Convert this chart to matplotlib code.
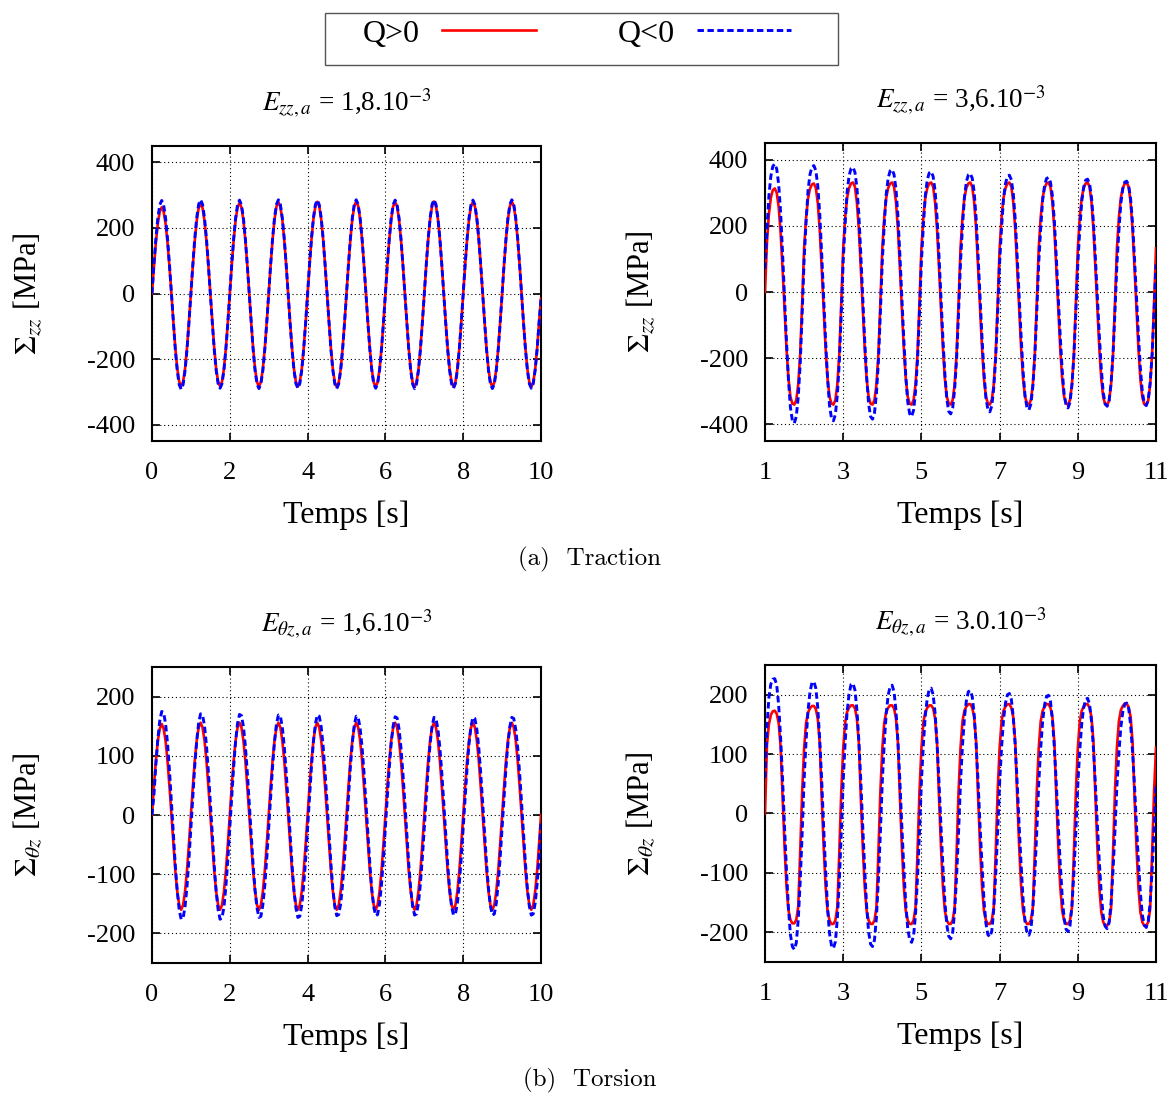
import numpy as np
import matplotlib.pyplot as plt
from matplotlib.patches import Rectangle
from matplotlib.lines import Line2D

plt.rcParams['font.family'] = ['Liberation Serif', 'DejaVu Serif']
plt.rcParams['mathtext.fontset'] = 'stix'
plt.rcParams['axes.unicode_minus'] = False

# sampling step of the curves (s)
dt = 0.05
t_a = np.arange(201) * dt          # left column: 0 .. 10 s
t_b = 1.0 + np.arange(201) * dt    # right column: 1 .. 11 s

# ---- (a) Traction, E_zz,a = 1,8e-3 (MPa)
trac1_qpos = [
    0, 81, 155, 213, 250, 263, 250, 213, 155, 81, 0, -87, -166, -229, -269, -283, -269, -229, -166, -87,
    0, 85, 161, 222, 261, 274, 261, 222, 161, 85, 0, -87, -166, -229, -269, -283, -269, -229, -166, -87,
    0, 86, 163, 224, 263, 277, 263, 224, 163, 86, 0, -88, -167, -230, -270, -284, -270, -230, -167, -88,
    0, 86, 164, 226, 265, 279, 265, 226, 164, 86, 0, -88, -167, -230, -270, -284, -270, -230, -167, -88,
    0, 87, 165, 227, 266, 280, 266, 227, 165, 87, 0, -88, -168, -231, -271, -285, -271, -231, -168, -88,
    0, 87, 165, 227, 267, 281, 267, 227, 165, 87, 0, -88, -168, -231, -271, -285, -271, -231, -168, -88,
    0, 87, 165, 227, 266, 280, 266, 227, 165, 87, 0, -88, -168, -231, -271, -285, -271, -231, -168, -88,
    0, 87, 165, 227, 267, 281, 267, 227, 165, 87, 0, -88, -167, -230, -270, -284, -270, -230, -167, -88,
    0, 87, 165, 227, 266, 280, 266, 227, 165, 87, 0, -88, -168, -231, -271, -285, -271, -231, -168, -88,
    0, 87, 165, 227, 267, 281, 267, 227, 165, 87, 0, -88, -168, -231, -271, -285, -271, -231, -168, -88,
    -15]
trac1_qneg = [
    0, 88, 167, 230, 270, 284, 270, 230, 167, 88, 0, -90, -172, -236, -278, -292, -278, -236, -172, -90,
    0, 88, 168, 231, 272, 286, 272, 231, 168, 88, 0, -89, -170, -234, -275, -289, -275, -234, -170, -89,
    0, 88, 168, 231, 271, 285, 271, 231, 168, 88, 0, -90, -171, -235, -276, -290, -276, -235, -171, -90,
    0, 88, 168, 231, 272, 286, 272, 231, 168, 88, 0, -89, -170, -234, -275, -289, -275, -234, -170, -89,
    0, 88, 168, 231, 271, 285, 271, 231, 168, 88, 0, -90, -171, -235, -276, -290, -276, -235, -171, -90,
    0, 88, 168, 231, 272, 286, 272, 231, 168, 88, 0, -89, -170, -234, -275, -289, -275, -234, -170, -89,
    0, 88, 168, 231, 271, 285, 271, 231, 168, 88, 0, -90, -171, -235, -276, -290, -276, -235, -171, -90,
    0, 88, 168, 231, 272, 286, 272, 231, 168, 88, 0, -89, -170, -234, -275, -289, -275, -234, -170, -89,
    0, 88, 168, 231, 271, 285, 271, 231, 168, 88, 0, -90, -171, -235, -276, -290, -276, -235, -171, -90,
    0, 88, 168, 231, 272, 286, 272, 231, 168, 88, 0, -89, -170, -234, -275, -289, -275, -234, -170, -89,
    -15]

# ---- (a) Traction, E_zz,a = 3,6e-3
trac2_qpos = [
    0, 150, 235, 285, 308, 313, 300, 257, 178, 69, -51, -170, -262, -316, -337, -340, -326, -279, -187, -34,
    131, 223, 282, 312, 325, 328, 315, 269, 187, 72, -51, -170, -262, -316, -337, -340, -326, -279, -187, -34,
    132, 225, 285, 314, 328, 331, 318, 271, 189, 73, -51, -170, -262, -316, -337, -340, -326, -279, -187, -34,
    132, 225, 285, 314, 328, 331, 318, 271, 189, 73, -51, -170, -262, -316, -337, -340, -326, -279, -187, -34,
    132, 225, 285, 314, 328, 331, 318, 271, 189, 73, -51, -170, -262, -316, -337, -340, -326, -279, -187, -34,
    132, 225, 285, 314, 328, 331, 318, 271, 189, 73, -51, -170, -262, -316, -337, -340, -326, -279, -187, -34,
    132, 225, 285, 314, 328, 331, 318, 271, 189, 73, -51, -170, -262, -316, -337, -340, -326, -279, -187, -34,
    132, 225, 285, 314, 328, 331, 318, 271, 189, 73, -51, -170, -262, -316, -337, -340, -326, -279, -187, -34,
    132, 225, 285, 314, 328, 331, 318, 271, 189, 73, -51, -171, -263, -318, -339, -342, -328, -280, -188, -34,
    132, 225, 285, 314, 328, 331, 318, 271, 189, 73, -51, -171, -263, -318, -339, -342, -328, -280, -188, -34,
    132]
trac2_qneg = [
    70, 190, 290, 350, 380, 387, 372, 325, 240, 116, -20, -150, -265, -348, -388, -396, -376, -317, -218, -67,
    96, 210, 306, 355, 378, 382, 367, 321, 237, 115, -19, -148, -261, -342, -381, -389, -370, -311, -214, -66,
    94, 207, 302, 351, 373, 377, 362, 317, 234, 113, -19, -146, -257, -338, -376, -384, -365, -307, -211, -65,
    93, 204, 296, 344, 366, 370, 355, 311, 229, 111, -19, -143, -252, -331, -368, -376, -357, -301, -207, -64,
    91, 200, 291, 339, 360, 364, 349, 306, 226, 109, -18, -140, -247, -324, -361, -368, -350, -294, -202, -63,
    90, 197, 286, 333, 354, 358, 344, 301, 222, 107, -18, -138, -243, -319, -355, -362, -344, -290, -199, -62,
    88, 194, 282, 328, 349, 353, 339, 297, 219, 106, -18, -135, -239, -313, -349, -356, -338, -285, -196, -61,
    87, 190, 277, 322, 343, 346, 332, 291, 215, 104, -18, -133, -235, -308, -343, -350, -333, -280, -193, -60,
    85, 188, 273, 317, 338, 341, 327, 286, 211, 102, -17, -131, -231, -304, -338, -345, -328, -276, -190, -59,
    84, 184, 268, 312, 332, 335, 322, 281, 208, 101, -17, -130, -230, -302, -336, -343, -326, -274, -189, -58,
    84]

# ---- (b) Torsion, E_thetaz,a = 1,6e-3
tors1_qpos = [
    0, 48, 91, 125, 146, 154, 146, 125, 91, 48, 0, -49, -94, -129, -152, -160, -152, -129, -94, -49,
    0, 48, 92, 126, 148, 156, 148, 126, 92, 48, 0, -49, -94, -129, -152, -160, -152, -129, -94, -49,
    0, 48, 92, 126, 148, 156, 148, 126, 92, 48, 0, -49, -94, -129, -152, -160, -152, -129, -94, -49,
    0, 48, 92, 126, 148, 156, 148, 126, 92, 48, 0, -49, -94, -129, -152, -160, -152, -129, -94, -49,
    0, 48, 92, 126, 148, 156, 148, 126, 92, 48, 0, -49, -94, -129, -152, -160, -152, -129, -94, -49,
    0, 48, 92, 126, 148, 156, 148, 126, 92, 48, 0, -49, -94, -129, -152, -160, -152, -129, -94, -49,
    0, 48, 92, 126, 148, 156, 148, 126, 92, 48, 0, -49, -94, -129, -152, -160, -152, -129, -94, -49,
    0, 48, 92, 126, 148, 156, 148, 126, 92, 48, 0, -49, -94, -129, -152, -160, -152, -129, -94, -49,
    0, 48, 92, 126, 148, 156, 148, 126, 92, 48, 0, -49, -94, -129, -152, -160, -152, -129, -94, -49,
    0, 48, 92, 126, 148, 156, 148, 126, 92, 48, 0, -49, -94, -129, -152, -160, -152, -129, -94, -49,
    0]
tors1_qneg = [
    0, 33, 85, 128, 159, 175, 173, 154, 121, 75, 22, -33, -85, -129, -160, -176, -174, -155, -121, -75,
    -22, 32, 83, 125, 156, 171, 169, 151, 118, 73, 22, -33, -85, -129, -160, -176, -174, -155, -121, -75,
    -22, 32, 82, 125, 155, 170, 168, 150, 117, 73, 21, -33, -84, -127, -157, -173, -171, -152, -119, -74,
    -22, 32, 82, 124, 154, 169, 167, 149, 116, 72, 21, -33, -84, -127, -157, -173, -171, -152, -119, -74,
    -22, 32, 82, 124, 154, 169, 167, 149, 116, 72, 21, -32, -82, -125, -155, -170, -168, -150, -117, -73,
    -21, 31, 81, 122, 152, 167, 165, 147, 115, 72, 21, -32, -82, -125, -155, -170, -168, -150, -117, -73,
    -21, 31, 80, 122, 151, 166, 164, 146, 114, 71, 21, -32, -82, -124, -154, -169, -167, -149, -116, -72,
    -21, 31, 80, 121, 150, 165, 163, 145, 114, 71, 21, -32, -82, -124, -154, -169, -167, -149, -116, -72,
    -21, 31, 80, 121, 150, 165, 163, 145, 114, 71, 21, -32, -82, -124, -154, -169, -167, -149, -116, -72,
    -21, 31, 80, 121, 150, 165, 163, 145, 114, 71, 21, -32, -82, -124, -154, -169, -167, -149, -116, -72,
    -10]

# ---- (b) Torsion, E_thetaz,a = 3.0e-3
tors2_qpos = [
    0, 115, 150, 166, 172, 173, 168, 152, 112, 26, -56, -122, -163, -179, -185, -185, -179, -157, -65, 36,
    109, 152, 170, 177, 181, 181, 176, 159, 118, 27, -56, -123, -164, -180, -186, -186, -180, -158, -65, 36,
    109, 153, 171, 178, 182, 182, 177, 160, 118, 27, -56, -123, -164, -180, -186, -186, -180, -158, -65, 36,
    109, 153, 171, 178, 182, 182, 177, 160, 118, 27, -56, -123, -164, -180, -186, -186, -180, -158, -65, 36,
    109, 153, 171, 178, 182, 182, 177, 160, 118, 27, -56, -123, -164, -180, -186, -186, -180, -158, -65, 37,
    110, 155, 173, 180, 184, 184, 178, 162, 120, 28, -56, -123, -164, -180, -186, -186, -180, -158, -65, 37,
    110, 155, 173, 180, 184, 184, 178, 162, 120, 28, -56, -123, -164, -180, -186, -186, -180, -158, -65, 37,
    110, 155, 173, 180, 184, 184, 178, 162, 120, 28, -56, -123, -164, -180, -186, -186, -180, -158, -65, 37,
    110, 155, 173, 180, 184, 184, 178, 162, 120, 28, -57, -125, -166, -183, -189, -189, -183, -161, -66, 37,
    111, 155, 174, 181, 185, 185, 179, 163, 120, 28, -57, -125, -166, -183, -189, -189, -183, -161, -66, 37,
    111]
tors2_qneg = [
    60, 145, 195, 218, 226, 227, 216, 182, 127, 57, -23, -96, -160, -204, -224, -229, -218, -179, -115, -34,
    56, 122, 173, 204, 220, 222, 211, 178, 124, 56, -23, -95, -159, -202, -222, -227, -216, -177, -114, -34,
    55, 120, 171, 201, 217, 219, 208, 175, 123, 55, -22, -94, -157, -199, -220, -224, -213, -175, -112, -34,
    54, 119, 168, 199, 214, 216, 205, 173, 121, 54, -22, -91, -152, -193, -213, -217, -206, -169, -109, -33,
    53, 116, 165, 194, 209, 211, 200, 169, 118, 53, -21, -89, -148, -188, -207, -211, -200, -165, -106, -32,
    52, 114, 161, 190, 205, 207, 197, 166, 116, 52, -21, -87, -146, -185, -204, -208, -198, -162, -104, -31,
    51, 111, 158, 186, 200, 202, 192, 162, 113, 51, -21, -86, -144, -182, -201, -205, -195, -160, -103, -31,
    50, 109, 155, 183, 197, 199, 189, 159, 111, 50, -20, -84, -139, -177, -195, -199, -189, -155, -100, -30,
    49, 107, 151, 178, 192, 194, 184, 155, 109, 49, -19, -81, -136, -173, -190, -194, -184, -151, -97, -29,
    47, 102, 145, 171, 184, 186, 177, 149, 104, 47, -19, -81, -134, -171, -188, -192, -182, -150, -96, -29,
    47]

red = '#ff0000'
blue = '#0000ff'
dash = (0, (2.2, 1.2))

fig = plt.figure(figsize=(11.69, 10.93), dpi=100)


def panel(rect, t, qpos, qneg, lim, yticks, xticks, ylabel, title):
    ax = fig.add_axes(rect)
    ax.plot(t, qpos, color=red, lw=1.9, zorder=3)
    ax.plot(t, qneg, color=blue, lw=2.1, ls=dash, zorder=4)
    ax.set_xlim(t[0], t[-1])
    ax.set_ylim(-lim, lim)
    ax.set_xticks(xticks)
    ax.set_yticks(yticks)
    ax.set_yticklabels([str(v) for v in yticks])
    ax.grid(True, color='black', ls=(0, (1, 2.5)), lw=0.8)
    ax.tick_params(direction='in', length=6, width=1.2, top=True, right=True, labelsize=19)
    ax.tick_params(axis='x', pad=15)
    ax.tick_params(axis='y', pad=12)
    for s in ax.spines.values():
        s.set_linewidth(1.5)
    ax.set_xlabel('Temps [s]', fontsize=23)
    ax.set_ylabel(ylabel, fontsize=22)
    ax.yaxis.set_label_coords(-0.277, 0.5)
    ax.xaxis.set_label_coords(0.5, -0.2)
    ax.set_title(title, fontsize=19.5, pad=25)
    return ax


panel([0.1300, 0.5965, 0.3328, 0.2699], t_a, trac1_qpos, trac1_qneg, 450,
      [-400, -200, 0, 200, 400], [0, 2, 4, 6, 8, 10],
      r'$\Sigma_{zz}$ [MPa]', r'$E_{zz,a}$ = 1,8.10$^{-3}$')
panel([0.6544, 0.5965, 0.3345, 0.2726], t_b, trac2_qpos, trac2_qneg, 450,
      [-400, -200, 0, 200, 400], [1, 3, 5, 7, 9, 11],
      r'$\Sigma_{zz}$ [MPa]', r'$E_{zz,a}$ = 3,6.10$^{-3}$')
panel([0.1300, 0.1189, 0.3328, 0.2708], t_a, tors1_qpos, tors1_qneg, 250,
      [-200, -100, 0, 100, 200], [0, 2, 4, 6, 8, 10],
      r'$\Sigma_{\theta z}$ [MPa]', r'$E_{\theta z,a}$ = 1,6.10$^{-3}$')
panel([0.6544, 0.1199, 0.3345, 0.2717], t_b, tors2_qpos, tors2_qneg, 250,
      [-200, -100, 0, 100, 200], [1, 3, 5, 7, 9, 11],
      r'$\Sigma_{\theta z}$ [MPa]', r'$E_{\theta z,a}$ = 3.0.10$^{-3}$')

# sub-figure captions
fig.text(0.5047, 0.4885, '(a)  Traction', fontsize=18, family='cmr10', ha='center', va='center')
fig.text(0.5047, 0.0119, '(b)  Torsion', fontsize=18, family='cmr10', ha='center', va='center')

# legend box on top
fig.patches.append(Rectangle((325 / 1169, 1 - 65 / 1093), 513 / 1169, 52 / 1093,
                             transform=fig.transFigure, fill=False, edgecolor='#555555', lw=1.0))
handles = [Line2D([], [], color=red, lw=1.9), Line2D([], [], color=blue, lw=2.1, ls=dash)]
fig.legend(handles, ['Q>0', 'Q<0'], ncol=2, markerfirst=False, frameon=False,
           loc='center', bbox_to_anchor=(0.4935, 0.9689), fontsize=23,
           handlelength=2.95, handletextpad=0.7, columnspacing=2.55)

fig.savefig('out.png', dpi=100)
